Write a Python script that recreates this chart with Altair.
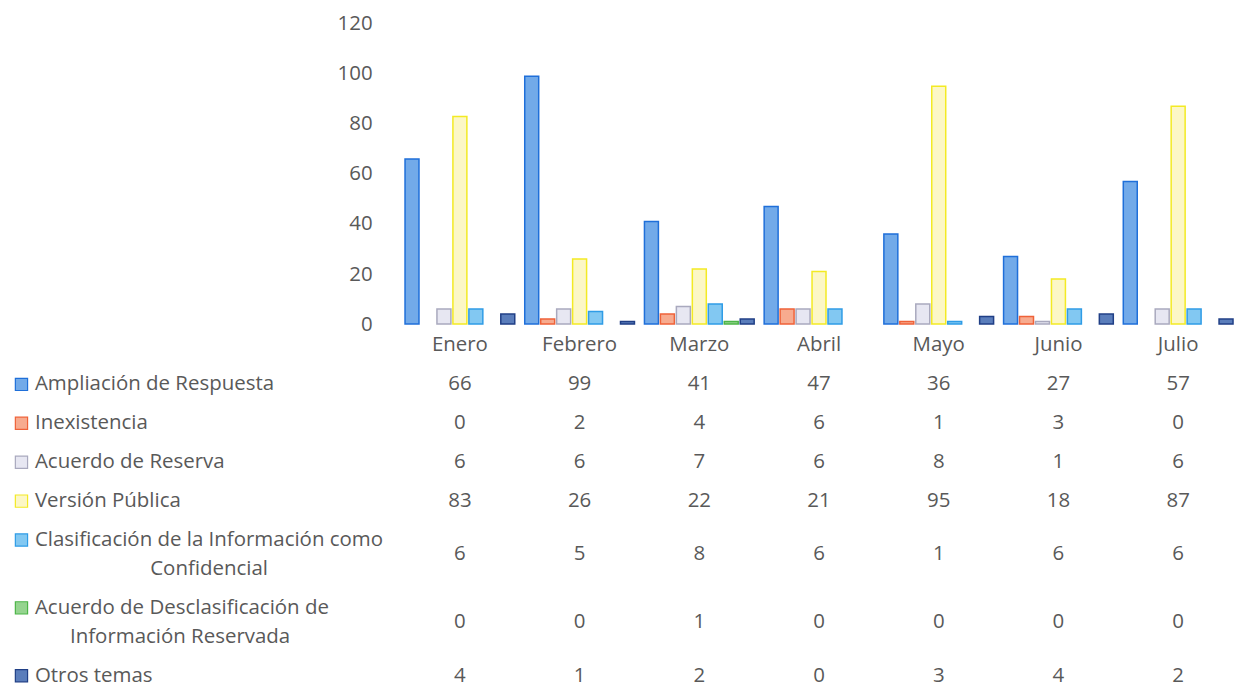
import altair as alt
import pandas as pd

months = ["Enero", "Febrero", "Marzo", "Abril", "Mayo", "Junio", "Julio"]
series = [
    "Ampliación de Respuesta",
    "Inexistencia",
    "Acuerdo de Reserva",
    "Versión Pública",
    "Clasificación de la Información como Confidencial",
    "Acuerdo de Desclasificación de Información Reservada",
    "Otros temas",
]
label_lines = [
    ["Ampliación de Respuesta"],
    ["Inexistencia"],
    ["Acuerdo de Reserva"],
    ["Versión Pública"],
    ["Clasificación de la Información como", "Confidencial"],
    ["Acuerdo de Desclasificación de", "Información Reservada"],
    ["Otros temas"],
]
ampliacion = [66, 99, 41, 47, 36, 27, 57]
inexistencia = [0, 2, 4, 6, 1, 3, 0]
acuerdo_reserva = [6, 6, 7, 6, 8, 1, 6]
version_publica = [83, 26, 22, 21, 95, 18, 87]
clasificacion = [6, 5, 8, 6, 1, 6, 6]
desclasificacion = [0, 0, 1, 0, 0, 0, 0]
otros = [4, 1, 2, 0, 3, 4, 2]
y_ticks = [0, 20, 40, 60, 80, 100, 120]

values = [ampliacion, inexistencia, acuerdo_reserva, version_publica,
          clasificacion, desclasificacion, otros]
fills = ["#72AAE9", "#F7AB8F", "#E7E7F2", "#FCF7C6", "#82C8F2", "#95D48F", "#5A7DBB"]
strokes = ["#1F6FD9", "#EF6238", "#A9A9BE", "#F3EA24", "#2F9CE6", "#4DB548", "#203F86"]

FONT = "Open Sans"
FS = 20.5
TXT = "#595959"

# ---- bar chart ----
rows = []
for s, vals in zip(series, values):
    for m, v in zip(months, vals):
        rows.append({"month": m, "series": s, "value": v})
bars_df = pd.DataFrame(rows)
bars_nz = bars_df[bars_df["value"] > 0]

fill_scale = alt.Scale(domain=series, range=fills)
stroke_scale = alt.Scale(domain=series, range=strokes)
x_scale = alt.Scale(domain=months, paddingInner=0.0667, paddingOuter=0.0333)

top = alt.Chart(bars_nz).mark_bar(strokeWidth=1.5).encode(
    x=alt.X("month:N", scale=x_scale, sort=months, axis=None),
    xOffset=alt.XOffset("series:N", sort=series,
                        scale=alt.Scale(domain=series, paddingInner=0.125, paddingOuter=0.0625)),
    y=alt.Y("value:Q", scale=alt.Scale(domain=[0, 120], nice=False),
            axis=alt.Axis(values=y_ticks, grid=False, domain=False, ticks=False,
                          labelPadding=28, labelFontSize=FS, labelColor=TXT,
                          labelFont=FONT, title=None)),
    fill=alt.Fill("series:N", scale=fill_scale, legend=None),
    stroke=alt.Stroke("series:N", scale=stroke_scale, legend=None),
).properties(width=840, height=301)

# ---- data table ----
ROW_PAD = 10
LINE_H = 29
TOP_SHIFT = 11
header_h = ROW_PAD + LINE_H
centers = []
pos = header_h
for lines in label_lines:
    h = ROW_PAD + LINE_H * len(lines)
    centers.append(pos + h / 2)
    pos += h
header_c = header_h / 2
D = centers[-1] + 8

tbl_rows = []
for s, vals, c in zip(series, values, centers):
    for m, v in zip(months, vals):
        tbl_rows.append({"month": m, "series": s, "value": str(v), "yc": c})
tbl_df = pd.DataFrame(tbl_rows)
hdr_df = pd.DataFrame({"month": months, "yc": [header_c] * len(months)})

LABEL_X = -366
SQ_X = -379.5
CHAR_W = 9.7
lab_left, lab_center, sq = [], [], []
for s, lines, c in zip(series, label_lines, centers):
    n = len(lines)
    ys = [c + (i - (n - 1) / 2) * LINE_H for i in range(n)]
    lab_left.append({"txt": lines[0], "yc": ys[0]})
    sq.append({"series": s, "yc": ys[0]})
    w1 = CHAR_W * len(lines[0])
    for ln, yy in zip(lines[1:], ys[1:]):
        lab_center.append({"txt": ln, "yc": yy, "lx": LABEL_X + w1 / 2})

y_tbl = alt.Y("yc:Q", scale=alt.Scale(domain=[TOP_SHIFT, D], reverse=True, nice=False, zero=False),
              axis=None)
x_tbl = alt.X("month:N", scale=x_scale, sort=months, axis=None)
txt_props = dict(font=FONT, fontSize=FS, color=TXT, baseline="middle")

header = alt.Chart(hdr_df).mark_text(**txt_props).encode(x=x_tbl, y=y_tbl, text="month:N")
cells = alt.Chart(tbl_df).mark_text(**txt_props).encode(x=x_tbl, y=y_tbl, text="value:N")
labels_l = alt.Chart(pd.DataFrame(lab_left)).mark_text(align="left", **txt_props).encode(
    x=alt.value(LABEL_X), y=y_tbl, text="txt:N")
labels_c = alt.Chart(pd.DataFrame(lab_center)).mark_text(align="center", **txt_props).encode(
    x=alt.X("lx:Q", scale=None, axis=None), y=y_tbl, text="txt:N")
squares = alt.Chart(pd.DataFrame(sq)).mark_square(size=150, strokeWidth=1.2, opacity=1).encode(
    x=alt.value(SQ_X), y=y_tbl,
    fill=alt.Fill("series:N", scale=fill_scale, legend=None),
    stroke=alt.Stroke("series:N", scale=stroke_scale, legend=None),
)

bottom = alt.layer(header, cells, labels_l, labels_c, squares).resolve_scale(
    x="independent").properties(width=840, height=D - TOP_SHIFT)

chart = alt.vconcat(top, bottom, spacing=0).properties(
    padding={"left": 4, "top": 5, "right": 0, "bottom": 4},
    background="white",
).configure_view(stroke=None)

chart.save("out.html", embed_options={"renderer": "svg", "actions": False})
